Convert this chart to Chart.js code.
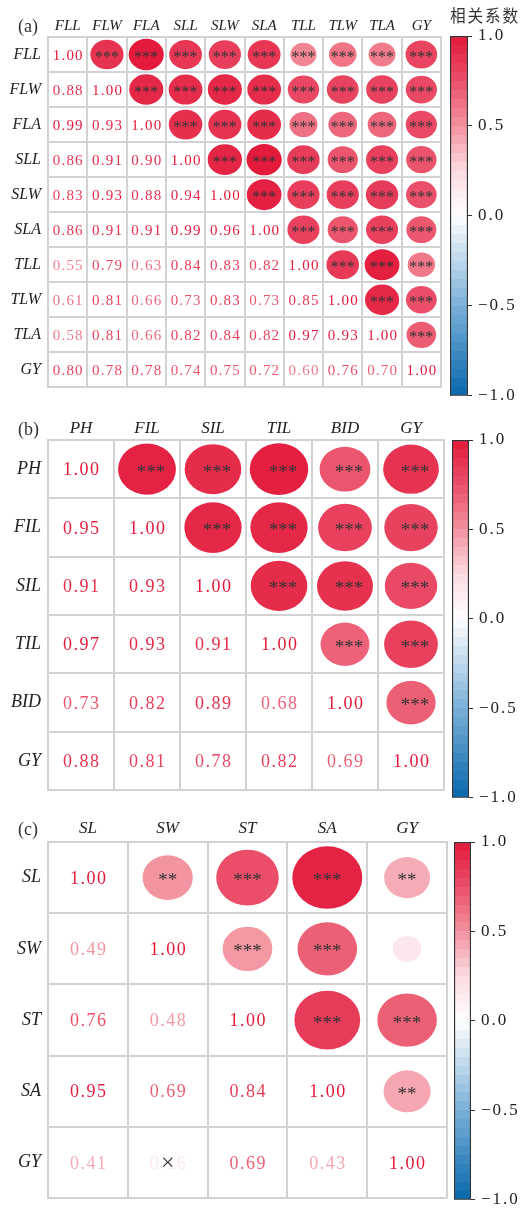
<!DOCTYPE html>
<html>
<head>
<meta charset="utf-8">
<script src="https://cdn.jsdelivr.net/npm/chart.js@4.4.0/dist/chart.umd.min.js"></script>
<style>
  body { margin: 0; background: #fff; width: 520px; height: 1216px; position: relative; overflow: hidden; }
  canvas { position: absolute; }
</style>
</head>
<body>
<canvas id="ma" width="444" height="404" style="left:0;top:0"></canvas>
<canvas id="ca" width="80" height="412" style="left:440px;top:0"></canvas>
<canvas id="mb" width="448" height="404" style="left:0;top:404px"></canvas>
<canvas id="cb" width="80" height="410" style="left:440px;top:404px"></canvas>
<canvas id="mc" width="450" height="408" style="left:0;top:808px"></canvas>
<canvas id="cc" width="80" height="408" style="left:440px;top:808px"></canvas>
<script>
// panel (a): leaf traits
const varsA = ['FLL', 'FLW', 'FLA', 'SLL', 'SLW', 'SLA', 'TLL', 'TLW', 'TLA', 'GY'];
const corrA = [
  [],
  [0.88],
  [0.99, 0.93],
  [0.86, 0.91, 0.90],
  [0.83, 0.93, 0.88, 0.94],
  [0.86, 0.91, 0.91, 0.99, 0.96],
  [0.55, 0.79, 0.63, 0.84, 0.83, 0.82],
  [0.61, 0.81, 0.66, 0.73, 0.83, 0.73, 0.85],
  [0.58, 0.81, 0.66, 0.82, 0.84, 0.82, 0.97, 0.93],
  [0.80, 0.78, 0.78, 0.74, 0.75, 0.72, 0.60, 0.76, 0.70]
];
// number of stars per pair, same layout as corr
const sigA = ['', '3', '33', '333', '3333', '33333', '333333', '3333333', '33333333', '333333333'];

// panel (b)
const varsB = ['PH', 'FIL', 'SIL', 'TIL', 'BID', 'GY'];
const corrB = [
  [],
  [0.95],
  [0.91, 0.93],
  [0.97, 0.93, 0.91],
  [0.73, 0.82, 0.89, 0.68],
  [0.88, 0.81, 0.78, 0.82, 0.69]
];
const sigB = ['', '3', '33', '333', '3333', '33333'];

// panel (c)
const varsC = ['SL', 'SW', 'ST', 'SA', 'GY'];
const corrC = [
  [],
  [0.49],
  [0.76, 0.48],
  [0.95, 0.69, 0.84],
  [0.41, 0.16, 0.69, 0.43]
];
const sigC = ['', '2', '33', '333', '2032'];

const ticksBar = [-1, -0.5, 0, 0.5, 1];

const SERIF = '"Liberation Serif", "DejaVu Serif", serif';
const GRID = '#d2d2d2';

// colour map, -1 blue .. 0 white .. 1 crimson
const cmap = [
  [-1, [8, 104, 172]], [-0.5, [122, 176, 216]], [0, [255, 255, 255]],
  [0.25, [251, 219, 225]], [0.5, [243, 146, 158]], [0.75, [234, 80, 106]], [1, [227, 24, 58]]
];
function colorAt(v) {
  for (let k = 1; k < cmap.length; k++) {
    if (v <= cmap[k][0]) {
      const [v0, c0] = cmap[k - 1], [v1, c1] = cmap[k];
      const t = (v - v0) / (v1 - v0);
      const c = c0.map((a, i) => Math.round(a + (c1[i] - a) * t));
      return 'rgb(' + c.join(',') + ')';
    }
  }
  return 'rgb(227,24,58)';
}

const cellPlugin = {
  id: 'cells',
  afterDatasetsDraw(chart, args, o) {
    const ctx = chart.ctx;
    const meta = chart.getDatasetMeta(0);
    const pts = chart.data.datasets[0].data;
    const n = chart.scales.x.getLabels().length;
    const cw = chart.scales.x.width / n, ch = chart.scales.y.height / n;
    ctx.save();
    pts.forEach((d, k) => {
      const el = meta.data[k];
      const px = el.x, py = el.y;
      if (d.col > d.row) {
        const f = Math.sqrt(Math.abs(d.v));
        ctx.fillStyle = colorAt(d.v);
        ctx.beginPath();
        ctx.ellipse(px, py, 0.45 * cw * f, 0.45 * ch * f, 0, 0, Math.PI * 2);
        ctx.fill();
        if (d.s > 0) {
          ctx.fillStyle = '#333';
          ctx.font = o.starSize + 'px ' + SERIF;
          ctx.textAlign = 'center';
          ctx.textBaseline = 'alphabetic';
          ctx.fillText('*'.repeat(d.s), px + o.starDx, py + 0.45 * o.starSize);
        }
      } else {
        ctx.fillStyle = colorAt(d.v);
        ctx.font = o.numSize + 'px ' + SERIF;
        ctx.letterSpacing = o.numSpace + 'px';
        ctx.textAlign = 'center';
        ctx.textBaseline = 'alphabetic';
        ctx.fillText(d.v.toFixed(2), px + o.numSpace / 2, py + 0.34 * o.numSize);
        ctx.letterSpacing = '0px';
        if (d.cross) {
          ctx.fillStyle = '#333';
          ctx.font = '24px ' + SERIF;
          ctx.textBaseline = 'middle';
          ctx.fillText('\u00d7', px, py + 1);
        }
      }
    });
    ctx.fillStyle = '#333';
    ctx.font = '18px ' + SERIF;
    ctx.textAlign = 'left';
    ctx.textBaseline = 'alphabetic';
    ctx.fillText(o.tag, 18, chart.chartArea.top - o.tagUp);
    ctx.restore();
  }
};

function matrix(id, vars, corr, sig, o) {
  const n = vars.length, pts = [];
  for (let i = 0; i < n; i++) {
    for (let j = 0; j < n; j++) {
      const a = Math.max(i, j), b = Math.min(i, j);
      const v = i === j ? 1 : corr[a][b];
      const s = i === j ? 0 : +sig[a][b];
      pts.push({ x: vars[j], y: vars[i], row: i, col: j, v: v, s: s, cross: i > j && s === 0 });
    }
  }
  new Chart(document.getElementById(id), {
    type: 'scatter',
    data: { datasets: [{ data: pts, pointRadius: 0, pointHoverRadius: 0 }] },
    options: {
      responsive: false,
      animation: false,
      events: [],
      layout: { padding: o.pad },
      plugins: { legend: { display: false }, tooltip: { enabled: false }, cells: o },
      scales: {
        x: {
          type: 'category', labels: vars, position: 'top', offset: true,
          grid: { offset: true, color: GRID, lineWidth: 2, drawTicks: false },
          border: { color: GRID, width: 2 },
          ticks: { padding: o.xPad, color: '#222', font: { family: SERIF, style: 'italic', size: o.xFont } },
          afterFit: s => { s.height = o.top; }
        },
        y: {
          type: 'category', labels: vars, offset: true,
          grid: { offset: true, color: GRID, lineWidth: 2, drawTicks: false },
          border: { color: GRID, width: 2 },
          ticks: { padding: 7, color: '#222', font: { family: SERIF, style: 'italic', size: o.yFont } },
          afterFit: s => { s.width = 48; }
        }
      }
    },
    plugins: [cellPlugin]
  });
}

function barFill(c) {
  const chart = c.chart;
  if (!chart.chartArea) return '#fff';
  const y = chart.scales.y;
  const g = chart.ctx.createLinearGradient(0, y.getPixelForValue(1), 0, y.getPixelForValue(-1));
  const N = 40;
  for (let k = 0; k < N; k++) {
    const col = colorAt(1 - (k + 0.5) * 2 / N);
    g.addColorStop(k / N, col);
    g.addColorStop(Math.min(1, (k + 1) / N - 0.0001), col);
  }
  return g;
}

function colorbar(id, o) {
  new Chart(document.getElementById(id), {
    type: 'bar',
    data: {
      labels: [''],
      datasets: [{
        data: [[-1, 1]], backgroundColor: barFill, borderColor: '#333', borderWidth: 1.5,
        borderSkipped: false, barPercentage: 1, categoryPercentage: 1
      }]
    },
    options: {
      responsive: false,
      animation: false,
      events: [],
      layout: { padding: o.pad },
      plugins: {
        legend: { display: false }, tooltip: { enabled: false },
        title: o.title ? {
          display: true, text: o.title, color: '#333',
          font: { family: '"Noto Sans CJK SC", sans-serif', size: 17, weight: 'normal' },
          padding: { top: 5, bottom: 10.6 }
        } : { display: false }
      },
      scales: {
        x: { display: false },
        y: {
          position: 'right', min: -1, max: 1,
          afterBuildTicks: s => { s.ticks = ticksBar.map(v => ({ value: v })); },
          ticks: {
            padding: 6, color: '#222', font: { family: SERIF, size: 17 },
            callback: v => (v < 0 ? '\u2212' : '') + Math.abs(v).toFixed(1)
          },
          grid: { drawOnChartArea: false, tickLength: 4, color: '#333', lineWidth: 1 },
          border: { display: false },
          afterFit: s => { s.width = o.axisW; }
        }
      }
    },
    plugins: [{ id: 'spacing', beforeDraw(c) { c.ctx.letterSpacing = '2px'; } }]
  });
}

matrix('ma', varsA, corrA, sigA, {
  tag: '(a)', tagUp: 5, top: 37, xPad: 2, xFont: 15, yFont: 16,
  pad: { right: 3, bottom: 4 }, starSize: 16, starDx: 0, numSize: 15, numSpace: 1.2
});
colorbar('ca', { title: '相关系数', pad: { left: 10, bottom: 12 }, axisW: 52 });

matrix('mb', varsB, corrB, sigB, {
  tag: '(b)', tagUp: 5, top: 36, xPad: 1, xFont: 17, yFont: 18,
  pad: { right: 4, bottom: 6 }, starSize: 19, starDx: 4, numSize: 18, numSpace: 1.5
});
colorbar('cb', { pad: { left: 12, top: 36, bottom: 12 }, axisW: 51 });

matrix('mc', varsC, corrC, sigC, {
  tag: '(c)', tagUp: 7, top: 34, xPad: 3, xFont: 17, yFont: 18,
  pad: { right: 3, bottom: 11 }, starSize: 19, starDx: 0, numSize: 18, numSpace: 1.5
});
colorbar('cc', { pad: { left: 14, top: 34, bottom: 11 }, axisW: 49 });
</script>
</body>
</html>
